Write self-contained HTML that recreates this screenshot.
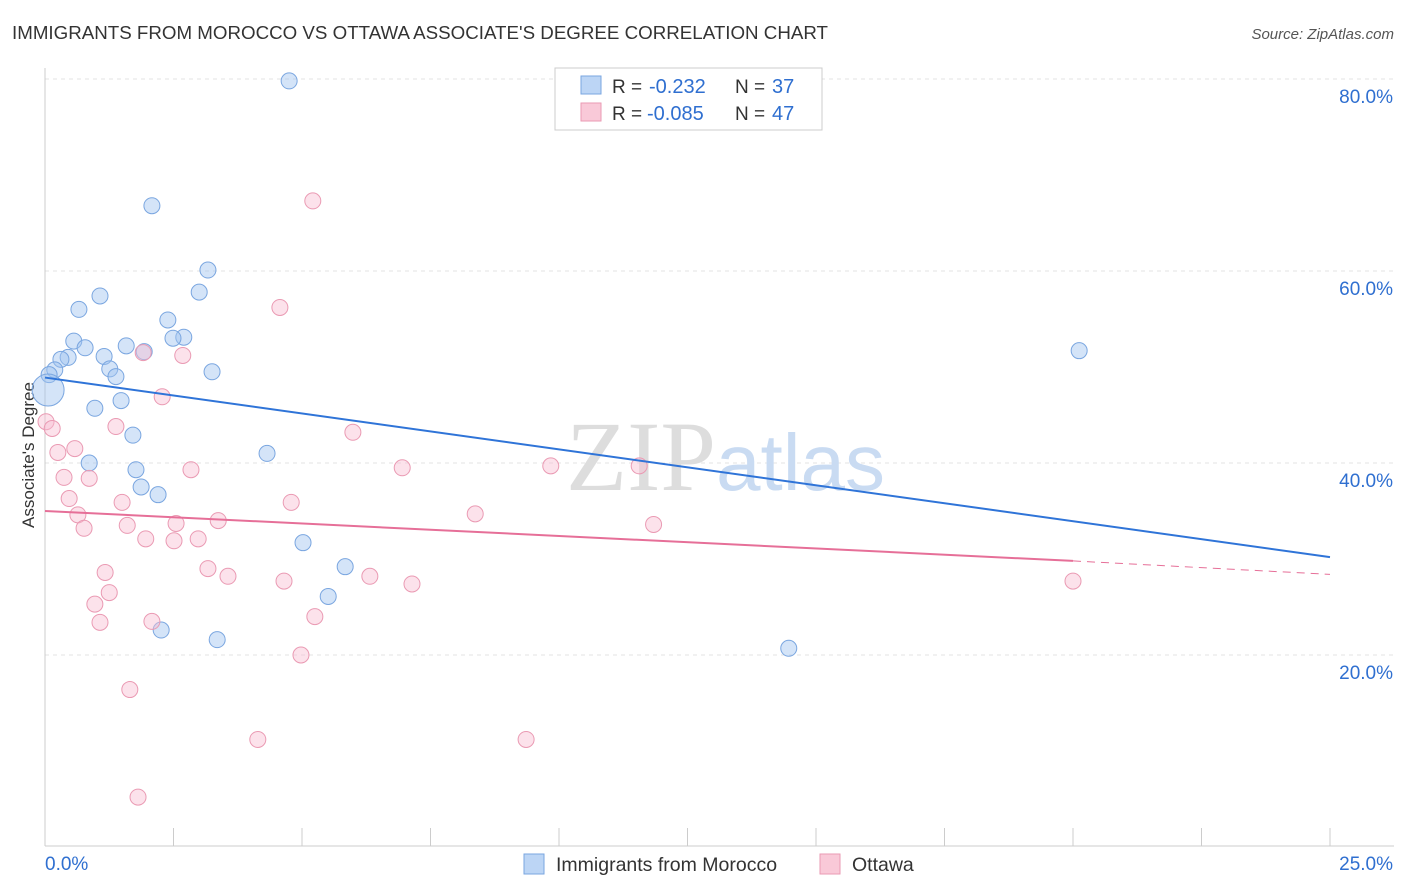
<!DOCTYPE html>
<html><head><meta charset="utf-8">
<style>
body{margin:0;background:#fff;font-family:"Liberation Sans",sans-serif;}
svg{display:block}
</style></head>
<body>
<svg id="chart" width="1406" height="892">
<text x="12" y="39" font-size="18" fill="#333" textLength="816" lengthAdjust="spacingAndGlyphs">IMMIGRANTS FROM MOROCCO VS OTTAWA ASSOCIATE'S DEGREE CORRELATION CHART</text>
<text x="1394" y="39" font-size="15" fill="#555" font-style="italic" text-anchor="end">Source: ZipAtlas.com</text>
<g id="grid"></g>
<text x="716" y="490" font-size="100" font-family="Liberation Serif" fill="#ddd" text-anchor="end">ZIP</text>
<text x="716" y="490" font-size="80" fill="#c9dbf2">atlas</text>
<g id="axes"></g>
<text transform="translate(34,455) rotate(-90)" font-size="17" fill="#333" text-anchor="middle">Associate's Degree</text>
<g id="marks"></g>
<g>
<rect x="555" y="68" width="267" height="62" fill="#fff" stroke="#ccc"/>
<rect x="581" y="76" width="20" height="18" fill="#bcd5f5" stroke="#7aa6e0"/>
<text x="612" y="93" font-size="19" fill="#333">R =</text>
<text x="649" y="93" font-size="20" fill="#2f6fd0">-0.232</text>
<text x="735" y="93" font-size="19" fill="#333">N =</text>
<text x="772" y="93" font-size="20" fill="#2f6fd0">37</text>
<rect x="581" y="103" width="20" height="18" fill="#f9c9d8" stroke="#ea9ab3"/>
<text x="612" y="120" font-size="19" fill="#333">R =</text>
<text x="647" y="120" font-size="20" fill="#2f6fd0">-0.085</text>
<text x="735" y="120" font-size="19" fill="#333">N =</text>
<text x="772" y="120" font-size="20" fill="#2f6fd0">47</text>
</g>
<g>
<rect x="524" y="854" width="20" height="20" fill="#bcd5f5" stroke="#7aa6e0"/>
<text x="556" y="871" font-size="19.5" fill="#333">Immigrants from Morocco</text>
<rect x="820" y="854" width="20" height="20" fill="#f9c9d8" stroke="#ea9ab3"/>
<text x="852" y="871" font-size="19.5" fill="#333">Ottawa</text>
</g>
</svg>
<script>
const yTicks=[20,40,60,80];
const yTickLabels=["20.0%","40.0%","60.0%","80.0%"];
const xTicks=[0,2.5,5,7.5,10,12.5,15,17.5,20,22.5,25];
const blueX=[4.75,2.08,3.17,3.00,1.07,0.66,2.39,2.70,2.49,0.56,0.78,1.58,1.93,1.15,0.45,0.31,0.19,1.26,1.38,3.25,0.08,0.06,1.48,0.97,1.71,4.32,0.86,1.77,1.87,2.20,5.02,5.84,5.51,2.26,3.35,14.47,20.12];
const blueY=[79.8,66.8,60.1,57.8,57.4,56.0,54.9,53.1,53.0,52.7,52.0,52.2,51.6,51.1,51.0,50.8,49.7,49.8,49.0,49.5,49.2,47.6,46.5,45.7,42.9,41.0,40.0,39.3,37.5,36.7,31.7,29.2,26.1,22.6,21.6,20.7,51.7];
const blueR=[8,8,8,8,8,8,8,8,8,8,8,8,8,8,8,8,8,8,8,8,8,16,8,8,8,8,8,8,8,8,8,8,8,8,8,8,8];
const pinkX=[5.21,4.57,2.68,1.91,2.28,0.02,0.14,1.38,5.99,0.58,0.25,2.84,6.95,9.84,11.56,0.37,0.86,0.47,1.50,4.79,0.64,0.76,3.37,1.60,2.55,8.37,11.84,1.96,2.51,2.98,1.17,3.17,3.56,4.65,6.32,7.14,1.25,0.97,5.25,1.07,2.08,4.98,1.65,4.14,9.36,1.81,20.0];
const pinkY=[67.3,56.2,51.2,51.5,46.9,44.3,43.6,43.8,43.2,41.5,41.1,39.3,39.5,39.7,39.7,38.5,38.4,36.3,35.9,35.9,34.6,33.2,34.0,33.5,33.7,34.7,33.6,32.1,31.9,32.1,28.6,29.0,28.2,27.7,28.2,27.4,26.5,25.3,24.0,23.4,23.5,20.0,16.4,11.2,11.2,5.2,27.7];
const blueTrend=[0,48.9,25,30.2];
const pinkTrend=[0,35.0,20,29.8,25,28.4];
const X0=45,X1=1330,YB=847,YS=9.6;
const sx=v=>X0+(X1-X0)*v/25, sy=v=>YB-v*YS;
const NS="http://www.w3.org/2000/svg";
function mk(tag,attrs,parent){const e=document.createElementNS(NS,tag);for(const k in attrs)e.setAttribute(k,attrs[k]);parent.appendChild(e);return e;}
const grid=document.getElementById('grid'),axes=document.getElementById('axes'),marks=document.getElementById('marks');
yTicks.forEach((t,i)=>{
 const l=mk('line',{x1:45,x2:1394,y1:sy(t),y2:sy(t),stroke:'#e3e3e3','stroke-dasharray':'4,4'},grid);
 
 
 const tx=mk('text',{x:1393,y:sy(t)+24,'font-size':19,fill:'#2f6fd0','text-anchor':'end'},axes);
 tx.textContent=yTickLabels[i];
 
 
});
const ya=mk('line',{x1:45,x2:45,y1:68,y2:846,stroke:'#ccc'},axes);


const xa=mk('line',{x1:45,x2:1394,y1:846,y2:846,stroke:'#ccc'},axes);


xTicks.forEach(t=>{const l=mk('line',{x1:sx(t),x2:sx(t),y1:828,y2:846,stroke:'#ccc'},axes);
 
 });
const x0l=mk('text',{x:45,y:870,'font-size':19,fill:'#2f6fd0'},axes);x0l.textContent='0.0%';


const x1l=mk('text',{x:1393,y:870,'font-size':19,fill:'#2f6fd0','text-anchor':'end'},axes);x1l.textContent='25.0%';


blueX.forEach((v,i)=>{const c=mk('circle',{cx:sx(v),cy:sy(blueY[i]),r:blueR[i],fill:'rgba(160,196,240,0.45)',stroke:'#7aa6e0','stroke-width':1},marks);
 
 });
pinkX.forEach((v,i)=>{const c=mk('circle',{cx:sx(v),cy:sy(pinkY[i]),r:8,fill:'rgba(248,190,210,0.45)',stroke:'#ea9ab3','stroke-width':1},marks);
 
 });
const bt=mk('line',{x1:sx(blueTrend[0]),y1:sy(blueTrend[1]),x2:sx(blueTrend[2]),y2:sy(blueTrend[3]),stroke:'#2f74d8','stroke-width':2},marks);


const pt=mk('line',{x1:sx(pinkTrend[0]),y1:sy(pinkTrend[1]),x2:sx(pinkTrend[2]),y2:sy(pinkTrend[3]),stroke:'#e66f98','stroke-width':2},marks);


const pd=mk('line',{x1:sx(pinkTrend[2]),y1:sy(pinkTrend[3]),x2:sx(pinkTrend[4]),y2:sy(pinkTrend[5]),stroke:'#e66f98','stroke-width':1,'stroke-dasharray':'8,6'},marks);


</script>
</body></html>
